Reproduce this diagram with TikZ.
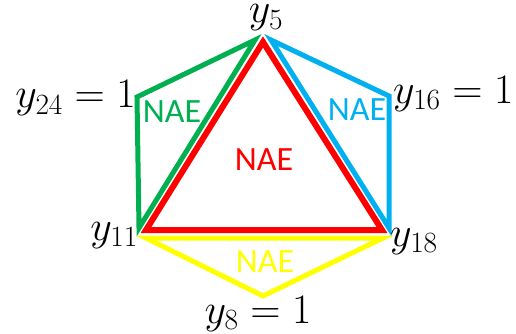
\RequirePackage{fix-cm}
\documentclass[tikz,border=0pt]{standalone}
\usepackage{fontspec}
\newfontfamily\naefont{Carlito}
\usetikzlibrary{positioning}
\definecolor{naered}{RGB}{255,0,0}
\definecolor{naegreen}{RGB}{0,176,80}
\definecolor{naeblue}{RGB}{0,176,240}
\definecolor{naeyellow}{RGB}{255,255,0}
\tikzset{
  var/.style={inner sep=0pt, font=\fontsize{42}{42}\selectfont},
  nae/.style={inner sep=0pt, font=\fontsize{34}{34}\naefont},
  clause/.style={line width=5pt, line join=miter},
}

\begin{document}
\begin{tikzpicture}[x=1pt, y=-1pt]
\useasboundingbox (0,0) rectangle (516,334);

\coordinate (g5) at (255,40);
\coordinate (g24) at (137,97);
\coordinate (g11) at (139,228);
\coordinate (b5) at (271,40);
\coordinate (b16) at (389,96);
\coordinate (b18) at (389,228);
\coordinate (r5) at (263,42);
\coordinate (r11) at (146,230);
\coordinate (r18) at (382,230);
\coordinate (w11) at (146,238);
\coordinate (w18) at (383,238);
\coordinate (w8) at (263,296);

\draw[clause, naegreen] (g5) -- (g24) -- (g11) -- cycle;
\draw[clause, naeblue] (b5) -- (b16) -- (b18) -- cycle;
\draw[clause, naered, line width=6pt] (r5) -- (r11) -- (r18) -- cycle;
\draw[clause, naeyellow] (w11) -- (w18) -- (w8) -- cycle;

\node[var, anchor=base] (y5) at (266,23) {$y_5$};
\node[var, anchor=base east] (y24) at (136,108) {$y_{24}=1$};
\node[var, anchor=base west] (y16) at (393,103) {$y_{16}=1$};
\node[var, anchor=base east] (y11) at (138,240) {$y_{11}$};
\node[var, anchor=base west] (y18) at (390,246) {$y_{18}$};
\node[var, anchor=base] (y8) at (258,323) {$y_8=1$};

\node[nae, text=naegreen] (naeg) at (172,112) {NAE};
\node[nae, text=naeblue] (naeb) at (357,110) {NAE};
\node[nae, text=naered] (naer) at (264,160) {NAE};
\node[nae, text=naeyellow] (naey) at (265,262) {NAE};
\end{tikzpicture}
\end{document}
